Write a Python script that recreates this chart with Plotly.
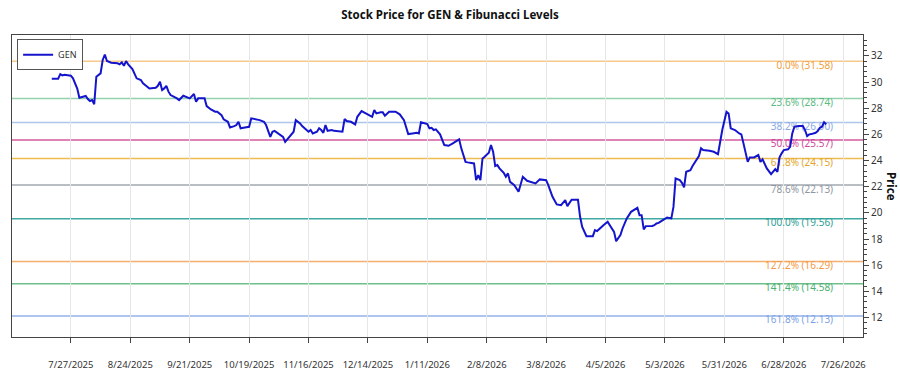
import plotly.graph_objects as go

# ---- data ----
dates = [
"2025-07-18","2025-07-21","2025-07-22","2025-07-23","2025-07-24","2025-07-27","2025-07-28","2025-07-30","2025-07-31",
"2025-08-03","2025-08-04","2025-08-05","2025-08-06","2025-08-07","2025-08-08","2025-08-09","2025-08-10","2025-08-11",
"2025-08-12","2025-08-13","2025-08-15","2025-08-18","2025-08-19","2025-08-20","2025-08-21","2025-08-22","2025-08-23",
"2025-08-25","2025-08-26","2025-08-27","2025-08-29","2025-08-30","2025-09-01","2025-09-02","2025-09-05","2025-09-06",
"2025-09-07","2025-09-08","2025-09-09","2025-09-10","2025-09-11","2025-09-12","2025-09-15","2025-09-16","2025-09-18",
"2025-09-19","2025-09-21","2025-09-23","2025-09-24","2025-09-25","2025-09-28","2025-09-29","2025-10-01","2025-10-03",
"2025-10-04","2025-10-06","2025-10-07","2025-10-09","2025-10-10","2025-10-12","2025-10-13","2025-10-14","2025-10-15",
"2025-10-17","2025-10-19","2025-10-20","2025-10-22","2025-10-24","2025-10-26","2025-10-27","2025-10-29","2025-10-30",
"2025-10-31","2025-11-02","2025-11-04","2025-11-05","2025-11-07","2025-11-09","2025-11-10","2025-11-12","2025-11-13",
"2025-11-15","2025-11-16","2025-11-17","2025-11-18","2025-11-20","2025-11-21","2025-11-22","2025-11-23","2025-11-24",
"2025-11-25","2025-11-27","2025-11-28","2025-12-02","2025-12-03","2025-12-04","2025-12-06","2025-12-08","2025-12-09",
"2025-12-11","2025-12-13","2025-12-16","2025-12-17","2025-12-18","2025-12-20","2025-12-21","2025-12-22","2025-12-24",
"2025-12-27","2025-12-29","2025-12-31","2026-01-01","2026-01-02","2026-01-04","2026-01-06","2026-01-07","2026-01-08",
"2026-01-11","2026-01-12","2026-01-13","2026-01-14","2026-01-15","2026-01-17","2026-01-19","2026-01-21","2026-01-23",
"2026-01-26","2026-01-27","2026-01-29","2026-01-30","2026-02-02","2026-02-03","2026-02-04","2026-02-05","2026-02-06",
"2026-02-07","2026-02-09","2026-02-10","2026-02-11","2026-02-12","2026-02-13","2026-02-14","2026-02-16","2026-02-17",
"2026-02-18","2026-02-19","2026-02-21","2026-02-23","2026-02-25","2026-02-27","2026-03-02","2026-03-03","2026-03-05",
"2026-03-08","2026-03-09","2026-03-11","2026-03-13","2026-03-15","2026-03-17","2026-03-18","2026-03-20","2026-03-23",
"2026-03-24","2026-03-25","2026-03-27","2026-03-30","2026-03-31","2026-04-01","2026-04-04","2026-04-06","2026-04-07",
"2026-04-09","2026-04-10","2026-04-12","2026-04-13","2026-04-15","2026-04-17","2026-04-20","2026-04-21","2026-04-22",
"2026-04-23","2026-04-24","2026-04-27","2026-04-28","2026-04-29","2026-04-30","2026-05-02","2026-05-04","2026-05-06",
"2026-05-07","2026-05-08","2026-05-10","2026-05-11","2026-05-12","2026-05-13","2026-05-15","2026-05-16","2026-05-18",
"2026-05-19","2026-05-20","2026-05-21","2026-05-24","2026-05-26","2026-05-28","2026-05-29","2026-05-30","2026-06-01",
"2026-06-02","2026-06-03","2026-06-05","2026-06-07","2026-06-08","2026-06-09","2026-06-10","2026-06-11","2026-06-12",
"2026-06-14","2026-06-16","2026-06-17","2026-06-18","2026-06-19","2026-06-20","2026-06-22","2026-06-24","2026-06-25",
"2026-06-26","2026-06-27","2026-06-28","2026-06-30","2026-07-01","2026-07-02","2026-07-03","2026-07-05","2026-07-07",
"2026-07-08","2026-07-09","2026-07-10","2026-07-11","2026-07-13","2026-07-14","2026-07-15","2026-07-16","2026-07-17",
"2026-07-18",
]
prices = [
30.25,30.25,30.60,30.50,30.55,30.48,30.28,29.50,28.80,
28.93,28.70,28.55,28.62,28.30,30.40,30.53,30.66,31.68,
32.10,31.60,31.47,31.43,31.35,31.50,31.24,31.60,31.35,
30.99,30.66,30.28,30.15,29.90,29.64,29.50,29.56,29.71,
30.02,29.39,29.51,29.71,29.26,29.00,28.75,28.62,28.95,
28.87,28.75,29.08,28.49,28.75,28.75,28.16,27.90,27.73,
27.73,27.47,27.15,26.96,26.53,26.63,26.71,26.96,26.46,
26.53,26.58,27.22,27.15,27.09,26.96,26.71,25.81,26.20,
26.27,26.07,25.81,25.43,25.81,26.20,27.09,26.84,26.63,
26.38,26.20,26.33,26.07,26.20,26.46,26.33,26.12,26.71,
26.27,26.33,26.27,26.20,27.17,27.02,26.96,26.76,27.34,
27.78,27.60,27.34,27.86,27.60,27.68,27.68,27.42,27.73,
27.73,27.53,27.09,26.58,26.02,26.07,26.12,26.07,26.92,
26.79,26.46,26.50,26.33,26.38,26.00,25.18,25.13,25.31,
25.62,24.93,23.90,23.86,23.78,22.50,22.88,22.50,24.16,
24.29,24.59,25.18,24.67,23.58,23.65,23.40,23.06,22.76,
23.02,22.37,22.12,21.61,22.76,22.45,22.30,22.25,22.56,
22.50,22.12,21.23,20.65,20.59,20.98,20.52,21.00,21.00,
19.70,18.93,18.22,18.22,18.68,18.61,19.06,19.32,19.06,
18.55,17.84,18.30,18.81,19.58,20.08,20.39,19.83,19.83,
18.74,18.99,19.00,19.06,19.19,19.24,19.45,19.65,19.58,
20.46,22.63,22.50,22.30,21.95,23.14,23.27,23.58,24.09,
24.34,24.93,24.80,24.74,24.67,24.49,25.56,26.33,27.73,
27.60,26.46,26.33,26.07,26.00,25.31,24.55,23.90,24.24,
24.24,24.42,23.90,24.09,23.78,23.40,22.96,23.35,23.14,
24.24,24.55,24.80,24.86,25.05,26.07,26.58,26.63,26.63,
26.33,25.87,26.00,26.02,26.12,26.25,26.50,26.58,26.92,
26.76,
]

fib_ratios = ["0.0%", "23.6%", "38.2%", "50.0%", "61.8%", "78.6%", "100.0%", "127.2%", "141.4%", "161.8%"]
fib_levels = [31.58, 28.74, 26.90, 25.57, 24.15, 22.13, 19.56, 16.29, 14.58, 12.13]
fib_line_colors = ["#F7C98A", "#92D3AC", "#AEC6EC", "#D55A9E", "#EDBB4F", "#A2A8B1", "#3FA9A2", "#F6AE6C", "#6CC08A", "#93B3EA"]
fib_text_colors = ["#F0A040", "#5DBB82", "#88A9E4", "#D2479A", "#E5A52A", "#8E96A1", "#2E9E96", "#F29A48", "#4CB071", "#7EA3E6"]

tick_dates = ["2025-07-27", "2025-08-24", "2025-09-21", "2025-10-19", "2025-11-16", "2025-12-14", "2026-01-11",
              "2026-02-08", "2026-03-08", "2026-04-05", "2026-05-03", "2026-05-31", "2026-06-28", "2026-07-26"]
tick_labels = ["7/27/2025", "8/24/2025", "9/21/2025", "10/19/2025", "11/16/2025", "12/14/2025", "1/11/2026",
               "2/8/2026", "3/8/2026", "4/5/2026", "5/3/2026", "5/31/2026", "6/28/2026", "7/26/2026"]

x_range = ["2025-06-29 06:00", "2026-08-04 08:00"]
y_range = [10.52, 33.59]
label_x = "2026-07-21 06:00"

FONT = "Noto Sans"

fig = go.Figure()

# fib labels as a text trace (drawn under the price line)
fig.add_trace(go.Scatter(
    x=[label_x] * len(fib_levels), y=fib_levels,
    text=[f"{r} ({v:.2f})" for r, v in zip(fib_ratios, fib_levels)],
    mode="text", textposition="bottom left",
    textfont=dict(family=FONT, size=10, color=fib_text_colors),
    showlegend=False, hoverinfo="skip", cliponaxis=False,
))

fig.add_trace(go.Scatter(
    x=dates, y=prices, mode="lines", name="GEN",
    line=dict(color="#1414CC", width=2),
))

for lvl, col in zip(fib_levels, fib_line_colors):
    fig.add_shape(type="line", xref="paper", x0=0, x1=1, yref="y", y0=lvl, y1=lvl,
                  line=dict(color=col, width=1.5), layer="below")

fig.update_layout(
    width=900, height=375,
    margin=dict(l=12, r=37, t=35, b=38),
    paper_bgcolor="white", plot_bgcolor="white",
    title=dict(text="<b>Stock Price for GEN &amp; Fibunacci Levels</b>", x=0.5, xanchor="center",
               y=1 - 15 / 375, yanchor="middle", font=dict(family=FONT, size=11.5, color="#111")),
    font=dict(family=FONT, size=10, color="#333"),
    showlegend=True,
    legend=dict(x=0.006, y=0.986, xanchor="left", yanchor="top", bgcolor="white",
                bordercolor="#555", borderwidth=1, font=dict(family=FONT, size=9, color="#333"),
                itemwidth=30, tracegroupgap=0),
    xaxis=dict(type="date", range=x_range, tickvals=tick_dates, ticktext=tick_labels,
               showgrid=True, gridcolor="#E6E6E6", gridwidth=1, automargin=False,
               showline=True, linecolor="#444", linewidth=1, mirror=True,
               ticks="outside", ticklen=5, tickcolor="#444", ticklabelstandoff=14,
               tickfont=dict(family=FONT, size=9.5, color="#333"), zeroline=False),
    yaxis=dict(side="right", range=y_range, dtick=2, tick0=0, showgrid=False, automargin=False,
               showline=True, linecolor="#444", linewidth=1, mirror=True,
               ticks="outside", ticklen=5, tickcolor="#444",
               minor=dict(ticks="outside", ticklen=3, dtick=0.4, tickcolor="#444", showgrid=False),
               tickfont=dict(family=FONT, size=10, color="#333"), zeroline=False),
    annotations=[dict(text="<b>Price</b>", xref="paper", yref="paper", x=1, y=0.5, xshift=29,
                      xanchor="center", yanchor="middle", textangle=90, showarrow=False,
                      font=dict(family=FONT, size=11.5, color="#111"))],
)

fig.write_html("out.html")
